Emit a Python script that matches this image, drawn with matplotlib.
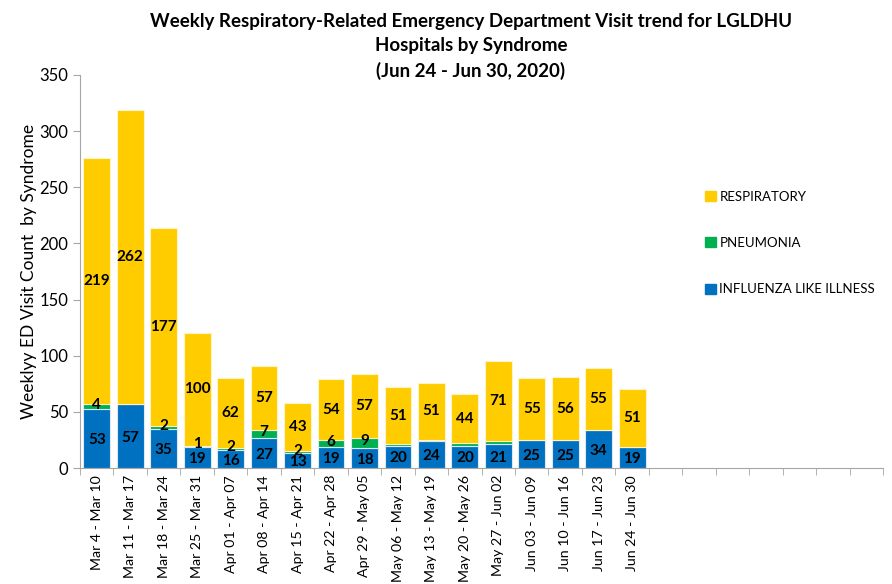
import matplotlib
matplotlib.use("Agg")
import matplotlib.pyplot as plt
from matplotlib.patches import Patch
import numpy as np

plt.rcParams['font.family'] = ['Lato', 'DejaVu Sans']

weeks = ["Mar 4 - Mar 10", "Mar 11 - Mar 17", "Mar 18 - Mar 24", "Mar 25 - Mar 31",
         "Apr 01 - Apr 07", "Apr 08 - Apr 14", "Apr 15 - Apr 21", "Apr 22 - Apr 28",
         "Apr 29 - May 05", "May 06 - May 12", "May 13 - May 19", "May 20 - May 26",
         "May 27 - Jun 02", "Jun 03 - Jun 09", "Jun 10 - Jun 16", "Jun 17 - Jun 23",
         "Jun 24 - Jun 30"]
ili = [53, 57, 35, 19, 16, 27, 13, 19, 18, 20, 24, 20, 21, 25, 25, 34, 19]
pneumonia = [4, 0, 2, 1, 2, 7, 2, 6, 9, 1, 1, 2, 3, 0, 0, 0, 0]
pneumonia_labels = ["4", "", "2", "1", "2", "7", "2", "6", "9", "", "", "", "", "", "", "", ""]
respiratory = [219, 262, 177, 100, 62, 57, 43, 54, 57, 51, 51, 44, 71, 55, 56, 55, 51]
n_slots = 24

blue = "#0070C0"
green = "#00B050"
yellow = "#FFCC00"

ili = np.array(ili)
pneumonia = np.array(pneumonia)
respiratory = np.array(respiratory)
x = np.arange(len(weeks))

fig = plt.figure(figsize=(8.92, 5.84), dpi=100)
ax = fig.add_axes([0.0897, 0.1986, 0.9003, 0.673])

w = 0.8
ax.bar(x, ili, w, color=blue, edgecolor="#dce9f5", linewidth=0.8)
ax.bar(x, pneumonia, w, bottom=ili, color=green, edgecolor="#dce9f5", linewidth=0.8)
ax.bar(x, respiratory, w, bottom=ili + pneumonia, color=yellow, edgecolor="#fff3c8", linewidth=0.8)

lab = dict(ha="center", va="center", fontsize=11, fontweight="bold", color="black")
for i in x:
    ax.text(i, ili[i] / 2 - 1.5, str(ili[i]), **lab)
    if pneumonia_labels[i]:
        ax.text(i, ili[i] + pneumonia[i] / 2 + 1.5, pneumonia_labels[i], **lab)
    ax.text(i, ili[i] + pneumonia[i] + respiratory[i] / 2, str(respiratory[i]), **lab)

ax.set_xlim(-0.5, n_slots - 0.5)
ax.set_ylim(0, 350)
ax.set_yticks(range(0, 351, 50))
ax.set_xticks(x)
ax.set_xticklabels(weeks, rotation=90, fontsize=10.2)
ax.set_xticks(np.arange(-0.5, n_slots, 1), minor=True)
ax.tick_params(axis="x", which="major", length=0, pad=5)
ax.tick_params(axis="x", which="minor", length=5, color="#a6a6a6")
ax.tick_params(axis="y", length=5, color="#a6a6a6", labelsize=12)

for s in ["top", "right"]:
    ax.spines[s].set_visible(False)
for s in ["left", "bottom"]:
    ax.spines[s].set_color("#a6a6a6")

ax.set_ylabel("Weeklyy ED Visit Count  by Syndrome", fontsize=12.5, labelpad=2)

fig.text(0.528, 0.977, "Weekly Respiratory-Related Emergency Department Visit trend for LGLDHU\n"
         "Hospitals by Syndrome\n(Jun 24 - Jun 30, 2020)",
         ha="center", va="top", fontsize=13.5, fontweight="bold", linespacing=1.5)

handles = [Patch(color=yellow, label="RESPIRATORY"),
           Patch(color=green, label="PNEUMONIA"),
           Patch(color=blue, label="INFLUENZA LIKE ILLNESS")]
fig.legend(handles=handles, loc="upper left", bbox_to_anchor=(0.777, 0.694),
           frameon=False, fontsize=9.5, labelspacing=2.6,
           handlelength=0.8, handleheight=0.8, handletextpad=0.3)

fig.savefig("out.png", dpi=100)
